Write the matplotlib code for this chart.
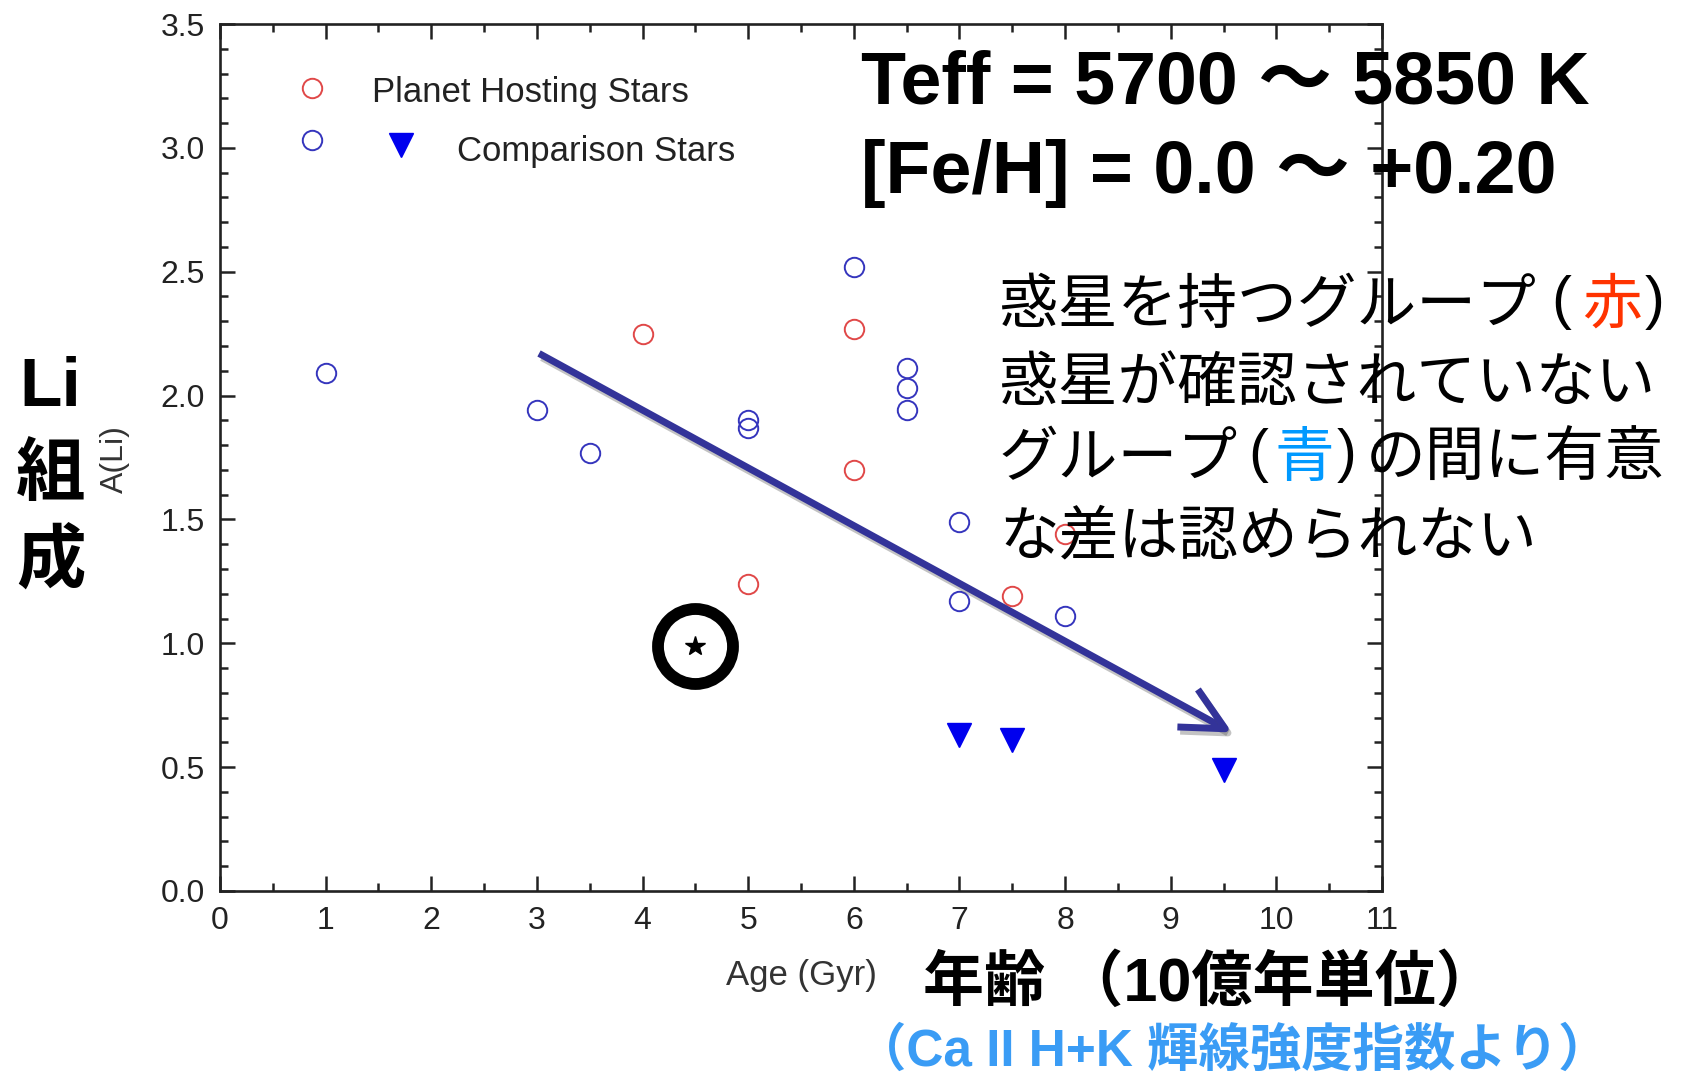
import matplotlib
matplotlib.use("Agg")
import matplotlib.pyplot as plt
import matplotlib.patheffects as pe
from matplotlib.patches import FancyArrowPatch
from matplotlib.ticker import MultipleLocator, FormatStrFormatter

plt.rcParams['font.family'] = ['Liberation Sans', 'Noto Sans CJK JP']

# planet hosting stars (red open circles)
host_age = [4.0, 6.0, 6.0, 5.0, 7.5, 8.0]
host_li = [2.25, 2.27, 1.70, 1.24, 1.19, 1.44]

# comparison stars with Li detections (blue open circles)
comp_age = [1.0, 3.0, 3.5, 5.0, 5.0, 6.0, 6.5, 6.5, 6.5, 7.0, 7.0, 8.0]
comp_li = [2.09, 1.94, 1.77, 1.90, 1.87, 2.52, 2.11, 2.03, 1.94, 1.49, 1.17, 1.11]

# comparison stars, upper limits (filled triangles)
limit_age = [7.0, 7.5, 9.5]
limit_li = [0.63, 0.61, 0.49]

# the Sun
sun_age = 4.5
sun_li = 0.99

# hand-drawn trend arrow (age, A(Li))
trend_start = (3.02, 2.17)
trend_end = (9.58, 0.64)

x_ticks = list(range(0, 12))
y_ticks = [0.0, 0.5, 1.0, 1.5, 2.0, 2.5, 3.0, 3.5]

W, H = 1693, 1074
fig = plt.figure(figsize=(W / 100, H / 100), dpi=100)
ax = fig.add_axes([220 / W, 1 - 891 / H, (1382 - 220) / W, (891 - 24) / H])

red = '#e04848'
blue = '#3535bd'

ax.plot(host_age, host_li, 'o', ms=14, mfc='none', mec=red, mew=1.4, ls='none')
ax.plot(comp_age, comp_li, 'o', ms=14, mfc='none', mec=blue, mew=1.4, ls='none')
ax.plot(limit_age, limit_li, 'v', ms=17, color='#0000ee', mec='#0000ee', ls='none')

# Sun with a heavy ring around it
ax.plot(sun_age, sun_li, '*', ms=15, color='black', ls='none')
ax.plot(sun_age, sun_li, 'o', ms=54, mfc='none', mec='black', mew=8.5, ls='none')

arrow = FancyArrowPatch(trend_start, trend_end, arrowstyle='->,head_length=1.4,head_width=0.7',
                        mutation_scale=22, color='#333399', lw=5, capstyle='butt',
                        shrinkA=0, shrinkB=0, zorder=4)
arrow.set_path_effects([pe.SimpleLineShadow(offset=(2, -3), shadow_color='#555555', alpha=0.35),
                        pe.Normal()])
ax.add_patch(arrow)

# legend drawn by hand
ax.plot([0.079], [0.926], 'o', ms=14, mfc='none', mec=red, mew=1.4, transform=ax.transAxes, clip_on=False)
ax.plot([0.079], [0.866], 'o', ms=14, mfc='none', mec=blue, mew=1.4, transform=ax.transAxes, clip_on=False)
ax.plot([0.156], [0.861], 'v', ms=17, color='#0000ee', transform=ax.transAxes, clip_on=False)
ax.text(0.131, 0.921, 'Planet Hosting Stars', transform=ax.transAxes, fontsize=25,
        color='#222222', va='center', ha='left')
ax.text(0.204, 0.853, 'Comparison Stars', transform=ax.transAxes, fontsize=25,
        color='#222222', va='center', ha='left')

ax.set_xlim(0, 11)
ax.set_ylim(0, 3.5)
ax.set_xticks(x_ticks)
ax.set_yticks(y_ticks)
ax.yaxis.set_major_formatter(FormatStrFormatter('%.1f'))
ax.xaxis.set_minor_locator(MultipleLocator(0.5))
ax.yaxis.set_minor_locator(MultipleLocator(0.1))
ax.tick_params(which='both', direction='in', top=True, right=True, width=1.8,
               color='#222222', labelcolor='#222222', labelsize=23, pad=11)
ax.tick_params(which='major', length=11)
ax.tick_params(which='minor', length=6)
for sp in ax.spines.values():
    sp.set_linewidth(1.9)
    sp.set_color('#222222')

# small original axis labels
fig.text(115 / W, 1 - 459 / H, 'A(Li)', rotation=90, fontsize=23, color='#333333',
         ha='center', va='center')
fig.text(801 / W, 1 - 975 / H, 'Age (Gyr)', fontsize=25, color='#333333',
         ha='center', va='center')

# big Japanese axis labels
fig.text(50 / W, 1 - 388 / H, 'Li', fontsize=50, fontweight='bold', ha='center', va='center')
fig.text(51 / W, 1 - 475 / H, '組', fontsize=50, fontweight='bold', ha='center', va='center',
         family='Noto Sans CJK JP')
fig.text(51 / W, 1 - 561 / H, '成', fontsize=50, fontweight='bold', ha='center', va='center',
         family='Noto Sans CJK JP')
fig.text(923 / W, 1 - 985 / H, '年齢 （10億年単位）', fontsize=44, fontweight='bold',
         ha='left', va='center')
fig.text(855 / W, 1 - 1052 / H, '（Ca II H+K 輝線強度指数より）', fontsize=37, fontweight='bold',
         color='#3a9cf5', ha='left', va='center')

# sample selection
fig.text(861 / W, 1 - 84 / H, 'Teff = 5700 ～ 5850 K', fontsize=53, fontweight='bold',
         ha='left', va='center')
fig.text(861 / W, 1 - 173 / H, '[Fe/H] = 0.0 ～ +0.20', fontsize=53, fontweight='bold',
         ha='left', va='center')

# conclusion, with coloured group names; x positions in pixels from the left,
# parentheses are set in the narrow Latin face so they sit tight to the text
note_fs = 43
note_lines = [
    [('惑星を持つグループ', 999, 'black'), ('(', 1551, 'black'), ('赤', 1582, '#ff3300'),
     (')', 1645, 'black')],
    [('惑星が確認されていない', 999, 'black')],
    [('グループ', 999, 'black'), ('(', 1248, 'black'), ('青', 1274, '#0099ff'),
     (')', 1337, 'black'), ('の間に有意', 1366, 'black')],
    [('な差は認められない', 999, 'black')],
]
note_base = [323, 401, 476, 554]
for parts, yb in zip(note_lines, note_base):
    for s, xx, c in parts:
        if s in '()':
            fig.text(xx / W, 1 - (yb - 5) / H, s, fontsize=note_fs, color=c,
                     ha='left', va='baseline', family='Liberation Sans')
        else:
            fig.text(xx / W, 1 - yb / H, s, fontsize=note_fs, color=c,
                     ha='left', va='baseline', family='Noto Sans CJK JP')

fig.savefig('out.png', dpi=100)
